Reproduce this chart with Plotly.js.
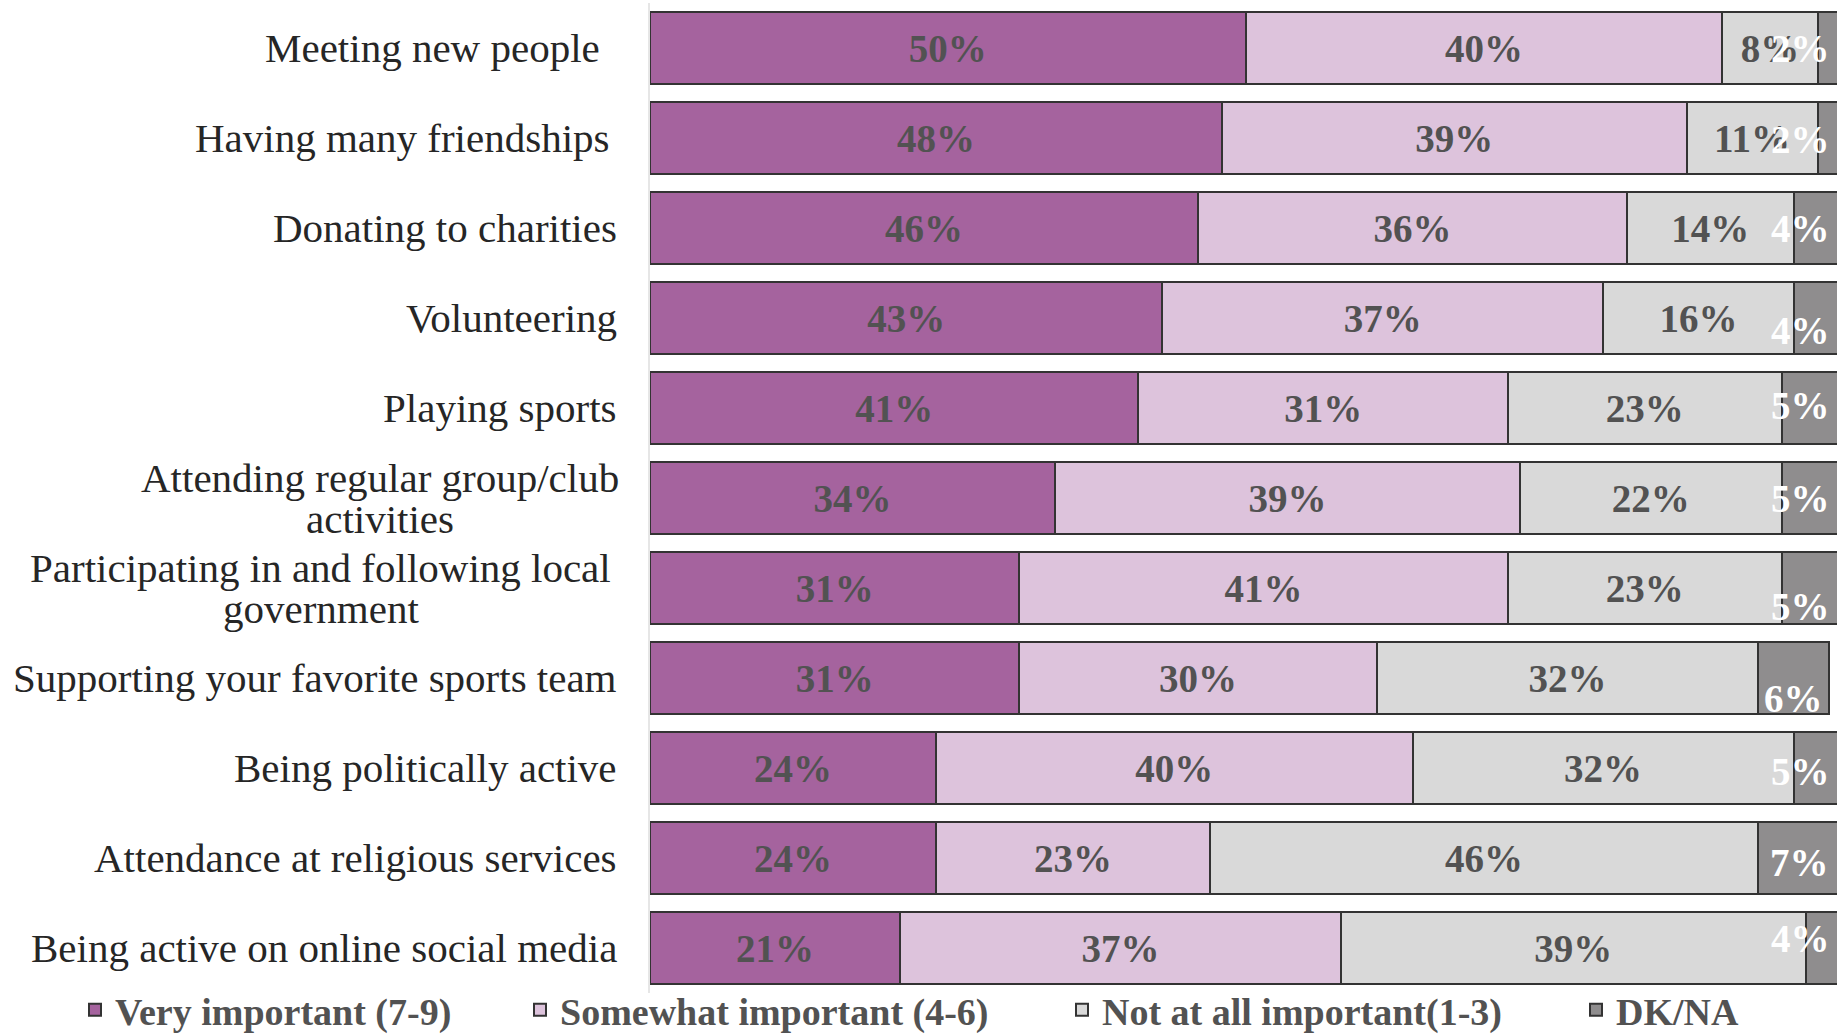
<!DOCTYPE html>
<html><head><meta charset="utf-8">
<script src="https://cdn.plot.ly/plotly-3.0.1.min.js"></script>
<style>html,body{margin:0;padding:0;background:#fff;} #chart{width:1837px;height:1034px;}</style>
</head><body><div id="chart"></div>
<script>
// ---- data ----
const categories = [
  "Meeting new people",
  "Having many friendships",
  "Donating to charities",
  "Volunteering",
  "Playing sports",
  "Attending regular group/club<br>activities",
  "Participating in and following local<br>government",
  "Supporting your favorite sports team",
  "Being politically active",
  "Attendance at religious services",
  "Being active on online social media"
];
const veryImportant     = [50, 48, 46, 43, 41, 34, 31, 31, 24, 24, 21];
const somewhatImportant = [40, 39, 36, 37, 31, 39, 41, 30, 40, 23, 37];
const notImportant      = [ 8, 11, 14, 16, 23, 22, 23, 32, 32, 46, 39];
const dkNa              = [ 2,  2,  4,  4,  5,  5,  5,  6,  5,  7,  4];
const seriesNames = ["Very important (7-9)", "Somewhat important (4-6)", "Not at all important(1-3)", "DK/NA"];

// ---- style ----
const seriesColors = ["#A5639E", "#DDC3DC", "#D9D9D9", "#8F8D8E"];
const W = 1837, H = 1034, L = 650, T = 3, B = 41;
const pxPerPct = 11.914;
const xMax = (W - L) / pxPerPct;
const serif = "Liberation Serif, Times New Roman, serif";
const labelColor = "#525252";
const dkLabelDrop = [0, 1, 0, 12, -3, 0, 18, 20, 3, 4, -10];
const labelInset = [17, 8, 0, 0, 0, 0, 8, 0, 0, 0, 0];
const legendTextStart = [115, 560, 1102, 1616];
const legendCenterY = 1010;

const seriesValues = [veryImportant, somewhatImportant, notImportant, dkNa];
const legendIds = ["legend", "legend2", "legend3", "legend4"];

const traces = seriesValues.map((vals, i) => ({
  type: "bar",
  orientation: "h",
  name: seriesNames[i],
  y: categories,
  x: vals,
  legend: legendIds[i],
  marker: { color: seriesColors[i], line: { color: "#333333", width: 2 } },
  texttemplate: i < 3 ? "%{x}%" : "",
  textposition: i < 3 ? "inside" : "none",
  insidetextanchor: "middle",
  constraintext: "none",
  textangle: 0,
  textfont: { family: serif, size: 39, color: labelColor, weight: 700 },
  hoverinfo: "skip"
}));

const annotations = [];
// DK/NA labels
const plotW = W - L;
const plotH = H - T - B;
const halfPct = 29 / pxPerPct;
const rightLimit = (1832 - L) / pxPerPct;
categories.forEach((c, k) => {
  const start = veryImportant[k] + somewhatImportant[k] + notImportant[k];
  const center = start + dkNa[k] / 2;
  const clamp = center + halfPct > rightLimit;
  annotations.push({
    x: clamp ? rightLimit : center, xref: "x", y: c, yref: "y",
    xanchor: clamp ? "right" : "center", yanchor: "middle",
    yshift: -dkLabelDrop[k],
    text: dkNa[k] + "%", showarrow: false,
    font: { family: serif, size: 39, color: "#ffffff", weight: 700 }
  });
});

// category labels
const ctx = document.createElement("canvas").getContext("2d");
const labelSize = 41;
ctx.font = labelSize + 'px "Liberation Serif"';
const labelRight = -31;
categories.forEach((c, k) => {
  const lines = c.split("<br>");
  const right = labelRight - labelInset[k];
  if (lines.length === 1) {
    annotations.push({
      x: 0, xref: "paper", y: c, yref: "y", xanchor: "right", yanchor: "middle",
      xshift: right, text: c, showarrow: false,
      font: { family: serif, size: labelSize, color: "#262626" }
    });
  } else {
    const w0 = ctx.measureText(lines[0]).width;
    const n = lines.length;
    lines.forEach((ln, i) => {
      annotations.push({
        x: 0, xref: "paper", y: c, yref: "y", xanchor: "center", yanchor: "middle",
        xshift: right - w0 / 2, yshift: ((n - 1) / 2 - i) * 41,
        text: ln, showarrow: false,
        font: { family: serif, size: labelSize, color: "#262626" }
      });
    });
  }
});

const layout = {
  width: W, height: H,
  margin: { l: L, r: 0, t: T, b: B, pad: 0, autoexpand: false },
  paper_bgcolor: "#ffffff", plot_bgcolor: "#ffffff",
  barmode: "stack", bargap: 0.21,
  xaxis: { range: [0, xMax], visible: false, showgrid: false, zeroline: false, fixedrange: true },
  yaxis: { type: "category", autorange: "reversed", showticklabels: false, showgrid: false,
           zeroline: false, showline: true, linecolor: "#e6e6e6", linewidth: 2, ticks: "" },
  annotations: annotations,
  showlegend: true
};
legendIds.forEach((id, i) => {
  layout[id] = {
    orientation: "h", xanchor: "left", yanchor: "middle",
    x: (legendTextStart[i] - 40 - L) / plotW, y: -(legendCenterY - (H - B)) / plotH,
    font: { family: serif, size: 38, color: labelColor, weight: 700 },
    bgcolor: "rgba(0,0,0,0)"
  };
});

Plotly.newPlot("chart", traces, layout, { displayModeBar: false, staticPlot: true });
</script>
</body></html>
